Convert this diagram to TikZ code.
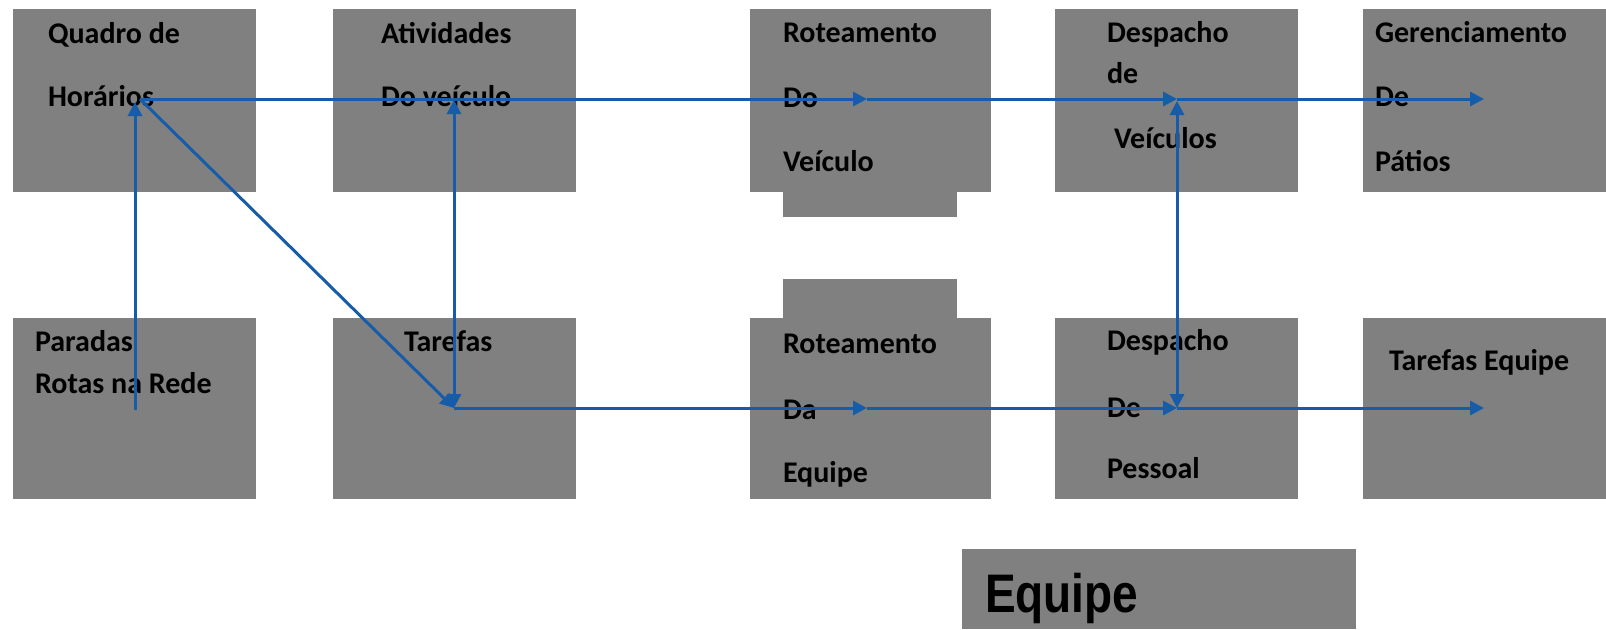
\documentclass[tikz,border=0pt]{standalone}
\usepackage{fontspec}
\usepackage{graphicx}
\setmainfont{Carlito}
\newfontfamily\arialb{Liberation Sans}
\usetikzlibrary{arrows.meta}
\definecolor{boxgray}{RGB}{128,128,128}
\definecolor{lineblue}{RGB}{22,92,168}
\begin{document}
\begin{tikzpicture}[x=0.5pt,y=-0.5pt,
  box/.style={fill=boxgray, draw=none, inner sep=0pt, outer sep=0pt, anchor=north west},
  topbox/.style={box, minimum width=121.5pt, minimum height=91.5pt},
  botbox/.style={box, minimum width=121.5pt, minimum height=90.5pt},
  lbl/.style={anchor=base west, inner sep=0pt, outer sep=0pt, font=\fontsize{15pt}{18pt}\selectfont\bfseries, text=black},
  conn/.style={draw=lineblue, line width=1.5pt, -{Triangle[length=7pt,width=7pt]}},
  conn2/.style={draw=lineblue, line width=1.5pt, {Triangle[length=7pt,width=7pt]}-{Triangle[length=7pt,width=7pt]}},
]
\useasboundingbox (0,0) rectangle (1606,629);
% boxes top row
\node[topbox] (b1) at (13,9) {};
\node[topbox] (b2) at (333,9) {};
\node[box, minimum width=87pt, minimum height=13.5pt] (b3tab) at (783,190) {};
\node[topbox, minimum width=120.5pt] (b3) at (750,9) {};
\node[topbox] (b4) at (1055,9) {};
\node[topbox] (b5) at (1363,9) {};
% boxes bottom row
\node[botbox] (b6) at (13,318) {};
\node[botbox] (b7) at (333,318) {};
\node[box, minimum width=87pt, minimum height=20.5pt] (b8tab) at (783,279) {};
\node[botbox, minimum width=120.5pt] (b8) at (750,318) {};
\node[botbox] (b9) at (1055,318) {};
\node[botbox] (b10) at (1363,318) {};
% Equipe box
\node[box, minimum width=197pt, minimum height=40pt] (beq) at (962,549) {};
% labels
\node[lbl] (t1a) at (48,43) {Quadro de};
\node[lbl] (t1b) at (48,106) {Horários};
\node[lbl] (t2a) at (381,43) {Atividades};
\node[lbl] (t2b) at (381,106) {Do veículo};
\node[lbl] (t3a) at (783,42) {Roteamento};
\node[lbl] (t3b) at (783,107) {Do};
\node[lbl] (t3c) at (783,171) {Veículo};
\node[lbl] (t4a) at (1107,42) {Despacho};
\node[lbl] (t4b) at (1107,83) {de};
\node[lbl] (t4c) at (1114,148) {Veículos};
\node[lbl] (t5a) at (1375,42) {Gerenciamento};
\node[lbl] (t5b) at (1375,106) {De};
\node[lbl] (t5c) at (1375,171) {Pátios};
\node[lbl] (t6a) at (35,351) {Paradas};
\node[lbl] (t6b) at (35,393) {Rotas na Rede};
\node[lbl] (t7a) at (404,351) {Tarefas};
\node[lbl] (t8a) at (783,353) {Roteamento};
\node[lbl] (t8b) at (783,419) {Da};
\node[lbl] (t8c) at (783,482) {Equipe};
\node[lbl] (t9a) at (1107,350) {Despacho};
\node[lbl] (t9b) at (1107,417) {De};
\node[lbl] (t9c) at (1107,478) {Pessoal};
\node[lbl] (t10a) at (1389,370) {Tarefas Equipe};
\node[anchor=base west, inner sep=0pt, outer sep=0pt, font=\arialb\fontsize{23pt}{26pt}\selectfont\bfseries] (teq) at (985,612) {\scalebox{1}[1.18]{Equipe}};
% connector points
\coordinate (hor) at (140,99);
\coordinate (horin) at (135,102);
\coordinate (par) at (135,410);
\coordinate (atv) at (454,100);
\coordinate (tar) at (454,408);
\coordinate (rv) at (867,99);
\coordinate (dv) at (1177,99);
\coordinate (dvin) at (1177,101);
\coordinate (gp) at (1484,99);
\coordinate (re) at (867,408);
\coordinate (dp) at (1177,408);
\coordinate (te) at (1484,408);
% connectors
\draw[conn] (par) -- (horin);
\draw[conn] (hor) -- (rv);
\draw[conn] (rv) -- (dv);
\draw[conn] (dv) -- (gp);
\draw[conn] (hor) -- (tar);
\draw[conn2] (tar) -- (atv);
\draw[conn] (tar) -- (re);
\draw[conn] (re) -- (dp);
\draw[conn] (dp) -- (te);
\draw[conn2] (dvin) -- (dp);
\end{tikzpicture}
\end{document}
